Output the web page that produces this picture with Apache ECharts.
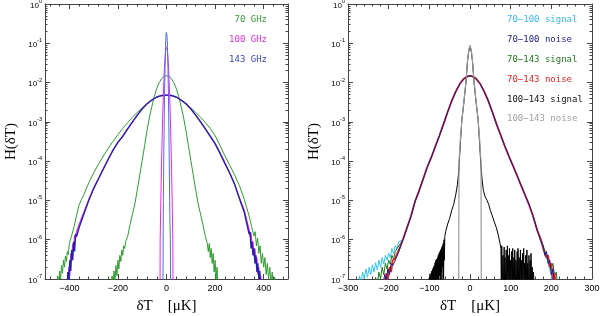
<!DOCTYPE html>
<html><head><meta charset="utf-8">
<script src="https://cdn.jsdelivr.net/npm/echarts@6/dist/echarts.min.js"></script>
<style>html,body{margin:0;padding:0;background:#fff}#c{width:600px;height:316px}</style>
</head><body><div id="c"></div>
<script>
// ---------- Tick labels / legend ----------
const leftXMajor = [-400, -200, 0, 200, 400];
const rightXMajor = [-300, -200, -100, 0, 100, 200, 300];
const yDecades = [1e-7, 1e-6, 1e-5, 1e-4, 1e-3, 1e-2, 1e-1, 1];
const leftNames = ['70 GHz', '100 GHz', '143 GHz'];
const rightNames = ['70\u2212100 signal', '70\u2212100 noise', '70\u2212143 signal', '70\u2212143 noise', '100\u2212143 signal', '100\u2212143 noise'];

// ---------- Left panel data: [deltaT, H] ----------
const green70Broad = [[-452,5e-8],[-448,1.2e-7],[-444,7e-8],[-440,1.6e-7],[-436,1e-7],[-432,2.2e-7],[-428,1.4e-7],[-424,3e-7],[-420,2e-7],[-416,3.8e-7],[-412,2.8e-7],[-408,5e-7],[-404,4.2e-7],[-400,8e-7],[-390,1.3e-6],[-380,2.2e-6],[-370,4.2e-6],[-360,7.6e-6],[-350,1.05e-5],[-340,1.41e-5],[-320,2.8e-5],[-300,5e-5],[-280,8.3e-5],[-260,1.35e-4],[-240,2.1e-4],[-220,3.2e-4],[-200,4.7e-4],[-180,6.8e-4],[-160,9.5e-4],[-140,1.32e-3],[-120,1.74e-3],[-100,2.3e-3],[-80,2.9e-3],[-60,3.55e-3],[-40,4.2e-3],[-20,4.6e-3],[0,4.7e-3],[20,4.6e-3],[40,4.2e-3],[60,3.55e-3],[80,2.9e-3],[100,2.3e-3],[120,1.74e-3],[140,1.32e-3],[160,9.5e-4],[180,6.8e-4],[200,4.5e-4],[220,2.5e-4],[240,1.38e-4],[260,7.9e-5],[280,4.5e-5],[300,2.4e-5],[320,1.07e-5],[340,4e-6],[350,2.2e-6],[360,1.26e-6],[365,1.6e-6],[370,7e-7],[375,1.1e-6],[380,4.5e-7],[385,7e-7],[390,2.5e-7],[395,4.5e-7],[400,2e-7],[405,3.5e-7],[410,1.3e-7],[415,2.5e-7],[420,1e-7],[425,2e-7],[430,7e-8],[435,1.5e-7],[440,6e-8],[445,1.1e-7],[450,5e-8]];
const green70Narrow = [[-228,5e-8],[-224,1.2e-7],[-220,7e-8],[-216,1.6e-7],[-212,9e-8],[-208,2.2e-7],[-204,1.2e-7],[-200,3e-7],[-196,1.8e-7],[-192,4e-7],[-188,2.8e-7],[-184,5.5e-7],[-180,4e-7],[-176,7e-7],[-172,6e-7],[-168,9e-7],[-160,1.2e-6],[-150,2.4e-6],[-140,4.5e-6],[-130,8.3e-6],[-120,1.9e-5],[-110,4.5e-5],[-100,1.05e-4],[-90,2.5e-4],[-80,6e-4],[-70,1.32e-3],[-60,2.5e-3],[-50,4.5e-3],[-40,7.1e-3],[-30,1.0e-2],[-20,1.26e-2],[-10,1.45e-2],[0,1.5e-2],[10,1.45e-2],[20,1.26e-2],[30,1.0e-2],[40,7.1e-3],[50,4.5e-3],[60,2.5e-3],[70,1.32e-3],[80,6e-4],[90,2.5e-4],[100,1.05e-4],[110,4.5e-5],[120,1.9e-5],[130,8.3e-6],[140,4.5e-6],[150,2.4e-6],[160,1.2e-6],[164,1.1e-6],[168,8e-7],[172,5e-7],[176,8e-7],[180,3.5e-7],[184,6e-7],[188,2.5e-7],[192,4.5e-7],[196,1.5e-7],[200,3e-7],[204,1e-7],[208,2e-7],[212,6e-8]];
const broadCore = [[-300,2e-5],[-280,3.55e-5],[-260,6.3e-5],[-240,1.12e-4],[-220,1.9e-4],[-200,3e-4],[-180,4.3e-4],[-160,6.6e-4],[-140,1e-3],[-120,1.48e-3],[-100,2.14e-3],[-80,2.9e-3],[-60,3.6e-3],[-40,4.3e-3],[-20,4.7e-3],[0,4.8e-3],[20,4.7e-3],[40,4.3e-3],[60,3.6e-3],[80,2.9e-3],[100,2.14e-3],[120,1.48e-3],[140,1e-3],[160,6.6e-4],[180,4.3e-4],[200,2.8e-4],[220,1.6e-4],[240,8.9e-5],[260,5e-5],[280,2.6e-5]];
const blue143BroadL = [[-410,5e-8],[-406,1.5e-7],[-402,8e-8],[-398,3e-7],[-394,1.6e-7],[-390,5.5e-7],[-386,3e-7],[-382,9e-7],[-378,5e-7],[-374,1.4e-6],[-370,1.2e-6],[-360,2e-6],[-340,4.5e-6],[-320,1e-5]];
const blue143BroadR = [[300,1.12e-5],[320,5e-6],[340,1.4e-6],[344,1.6e-6],[348,6e-7],[352,9e-7],[356,4e-7],[360,6e-7],[364,2.5e-7],[368,4e-7],[372,1.5e-7],[376,2.5e-7],[380,1e-7],[384,1.6e-7],[388,6e-8]];
const mag100BroadL = [[-406,6e-8],[-402,2e-7],[-398,1.2e-7],[-394,4.5e-7],[-390,3e-7],[-386,8e-7],[-382,6e-7],[-378,1.3e-6],[-374,1.1e-6],[-370,1.6e-6],[-360,2.4e-6],[-340,5e-6],[-320,1.05e-5]];
const mag100BroadR = [[300,1.15e-5],[320,5.6e-6],[340,1.8e-6],[344,1.2e-6],[348,1.5e-6],[352,7e-7],[356,9e-7],[360,4e-7],[364,6e-7],[368,2.5e-7],[372,3.5e-7],[376,1.3e-7],[380,2e-7],[384,8e-8],[388,1.2e-7],[392,5e-8]];
const blue143Spike = [[-15,1e-8],[-13,1e-5],[-12,4e-5],[-11,1.6e-4],[-10,5.4e-4],[-9,1.66e-3],[-8,4.6e-3],[-7,0.011],[-6,0.024],[-5,0.046],[-4,0.079],[-3,0.12],[-2,0.162],[-1,0.19],[0,0.204],[1,0.19],[2,0.162],[3,0.12],[4,0.079],[5,0.046],[6,0.024],[7,0.011],[8,4.6e-3],[9,1.66e-3],[10,5.4e-4],[11,1.6e-4],[12,4e-5],[13,1e-5],[14,3e-6],[16,1e-6],[17,1e-8]];
const mag100Spike = [[-27,1e-8],[-26,1e-6],[-24,5.8e-6],[-21,5.4e-5],[-18,3.7e-4],[-15,1.9e-3],[-12,7.2e-3],[-9,0.021],[-6,0.044],[-3,0.069],[0,0.079],[3,0.069],[6,0.044],[9,0.021],[12,7.2e-3],[15,1.9e-3],[18,3.7e-4],[21,5.4e-5],[24,5.8e-6],[26,1e-6],[27,1e-8]];

// ---------- Right panel data: [deltaT, H] ----------
const pairCore = [[-165,1e-6],[-155,2e-6],[-145,4e-6],[-135,9.5e-6],[-125,1.78e-5],[-115,3.55e-5],[-105,7.1e-5],[-95,1.26e-4],[-85,2.4e-4],[-75,4.5e-4],[-65,8.9e-4],[-55,1.78e-3],[-45,3.4e-3],[-35,5.9e-3],[-25,9.3e-3],[-15,1.26e-2],[-5,1.45e-2],[0,1.48e-2],[5,1.45e-2],[15,1.26e-2],[25,9.3e-3],[35,5.9e-3],[45,3.4e-3],[55,1.78e-3],[65,8.9e-4],[75,4.7e-4],[85,2.5e-4],[95,1.38e-4],[105,7.9e-5],[115,4.5e-5],[125,2.5e-5],[135,1.41e-5],[145,7.9e-6],[155,4e-6],[165,1.78e-6]];
const noise70_100L = [[-214,6e-8],[-210,1.3e-7],[-206,9e-8],[-202,1.8e-7],[-198,1.3e-7],[-194,2.5e-7],[-190,2.2e-7],[-185,2.8e-7],[-175,5e-7]];
const noise70_100R = [[175,8.9e-7],[180,7e-7],[184,4e-7],[188,5e-7],[192,2.5e-7],[196,3e-7],[200,1.3e-7],[204,1.8e-7],[208,7e-8]];
const noise70_143L = [[-210,5e-8],[-206,1.4e-7],[-202,1e-7],[-198,2e-7],[-194,1.5e-7],[-190,3e-7],[-185,3.2e-7],[-175,5.5e-7]];
const noise70_143R = [[175,9.5e-7],[180,6e-7],[184,6.5e-7],[188,3.5e-7],[192,4e-7],[196,2e-7],[200,2.5e-7],[204,1e-7],[208,1.4e-7],[212,5e-8]];
const signal70_100L = [[-276,5e-8],[-272,1.2e-7],[-268,8e-8],[-264,1.5e-7],[-260,1e-7],[-256,1.8e-7],[-252,1.1e-7],[-248,2e-7],[-244,1.3e-7],[-240,2.3e-7],[-236,1.5e-7],[-232,2.6e-7],[-228,1.7e-7],[-224,3e-7],[-220,2e-7],[-216,3.5e-7],[-212,2.4e-7],[-208,4e-7],[-204,3e-7],[-200,4.5e-7],[-196,3.5e-7],[-192,6e-7],[-188,4.5e-7],[-184,7e-7],[-180,6e-7],[-175,9e-7]];
const signal70_100R = [[175,8e-7],[180,6e-7],[185,4e-7],[190,3e-7],[195,2e-7],[200,1.2e-7],[204,6e-8]];
const signal70_143L = [[-236,5e-8],[-232,1.1e-7],[-228,7e-8],[-224,1.5e-7],[-220,1e-7],[-216,2e-7],[-212,1.3e-7],[-208,2.5e-7],[-204,1.8e-7],[-200,3e-7],[-196,2.4e-7],[-192,4e-7],[-188,3.2e-7],[-184,5e-7],[-180,5.5e-7],[-175,7e-7]];
const signal70_143R = [[175,1e-6],[180,7e-7],[185,5e-7],[190,4e-7],[195,3e-7],[200,2e-7],[204,2.5e-7],[208,1.2e-7],[212,1.5e-7],[216,6e-8]];
const signal100_143 = [[-102,5e-8],[-100,1.1e-7],[-99,5e-8],[-98,1.2e-7],[-97,5e-8],[-96,1.4e-7],[-95,5e-8],[-94,1.6e-7],[-93,5e-8],[-92,1.8e-7],[-91,5e-8],[-90,2e-7],[-89,5e-8],[-88,2.2e-7],[-87,6e-8],[-86,2.6e-7],[-85,5e-8],[-84,3e-7],[-83,8e-8],[-82,3.2e-7],[-81,5e-8],[-80,3.5e-7],[-79,1e-7],[-78,4e-7],[-77,5e-8],[-76,4.5e-7],[-75,1.2e-7],[-74,5e-7],[-73,6e-8],[-72,5.6e-7],[-71,1.5e-7],[-70,6.3e-7],[-69,8e-8],[-68,7e-7],[-67,2e-7],[-66,8e-7],[-65,1e-7],[-64,1e-6],[-63,3e-7],[-62,1.2e-6],[-60,1.6e-6],[-55,2.5e-6],[-50,3.5e-6],[-45,5.6e-6],[-40,8e-6],[-35,1.41e-5],[-31,2.5e-5],[-28,5e-5],[-24,2.5e-4],[-20,1.12e-3],[-15,3.16e-3],[-10,0.01],[-6,0.0355],[-3,0.063],[0,0.083],[3,0.063],[6,0.0355],[10,0.01],[15,3.16e-3],[20,1.12e-3],[24,2.5e-4],[27,7.1e-5],[30,3.16e-5],[33,1.78e-5],[37,1.26e-5],[42,1e-5],[46,7.9e-6],[50,5.6e-6],[55,4e-6],[60,2.8e-6],[65,2e-6],[70,1.26e-6],[74,7.9e-7],[76,6e-7],[77,5e-8],[78,7e-7],[80,5e-8],[81,4e-7],[82,5e-8],[84,6.5e-7],[85,5e-8],[86,3.5e-7],[88,5e-8],[89,5.5e-7],[90,5e-8],[92,7e-7],[93,5e-8],[94,4e-7],[96,5e-8],[97,6e-7],[98,5e-8],[100,3e-7],[101,5e-8],[102,5e-7],[104,5e-8],[105,6e-7],[106,5e-8],[108,3.5e-7],[109,5e-8],[110,5.5e-7],[112,5e-8],[113,3e-7],[114,5e-8],[116,5e-7],[117,5e-8],[118,6e-7],[120,5e-8],[121,3.5e-7],[122,5e-8],[124,5.5e-7],[125,5e-8],[126,3e-7],[128,5e-8],[129,4.5e-7],[130,5e-8],[132,6e-7],[133,5e-8],[134,2.5e-7],[136,5e-8],[137,4e-7],[138,5e-8],[140,5.5e-7],[141,5e-8],[142,2.5e-7],[144,5e-8],[145,4e-7],[146,5e-8],[148,3e-7],[149,5e-8],[150,4.5e-7],[152,5e-8],[153,2e-7],[154,5e-8],[156,1.5e-7],[158,5e-8]];
const noise100_143 = [[-28,1e-8],[-27,1.0e-4],[-24,3.2e-4],[-20,1.12e-3],[-15,3.3e-3],[-10,0.0105],[-6,0.038],[-3,0.068],[0,0.089],[3,0.068],[6,0.038],[10,0.0105],[15,3.3e-3],[20,1.12e-3],[24,3.2e-4],[27,1.0e-4],[28,1e-8]];

// ---------- Chart ----------
const AX = '#444';
const serif = '"Liberation Serif", "DejaVu Serif", serif';
function minorLin(min, max, step) { const a = []; for (let v = min; v <= max + 1e-9; v += step) a.push(v); return a; }
function minorLog() { const a = []; for (let e = -7; e < 0; e++) for (let m = 2; m <= 9; m++) a.push(m * Math.pow(10, e)); return a; }
const yMinor = minorLog();

function xAxesFor(grid, min, max, major, minor) {
  const base = { type: 'value', gridIndex: grid, min: min, max: max, splitLine: { show: false } };
  return [
    Object.assign({}, base, { position: 'bottom', axisLine: { show: true, onZero: false, lineStyle: { color: AX } },
      axisTick: { show: true, inside: true, length: 5, customValues: major, lineStyle: { color: AX } },
      axisLabel: { show: true, customValues: major, margin: 5, color: '#000', fontSize: 9, fontFamily: 'Liberation Sans',
        formatter: v => (v < 0 ? '\u2212' + (-v) : String(v)) },
      name: '\u03b4T    [\u03bcK]', nameLocation: 'middle', nameGap: 20,
      nameTextStyle: { fontFamily: serif, fontSize: 15, color: '#000' } }),
    Object.assign({}, base, { position: 'bottom', axisLine: { show: false, onZero: false },
      axisTick: { show: true, inside: true, length: 2.5, customValues: minor, lineStyle: { color: AX } }, axisLabel: { show: false } }),
    Object.assign({}, base, { position: 'top', axisLine: { show: true, onZero: false, lineStyle: { color: AX } },
      axisTick: { show: true, inside: true, length: 5, customValues: major, lineStyle: { color: AX } }, axisLabel: { show: false } }),
    Object.assign({}, base, { position: 'top', axisLine: { show: false, onZero: false },
      axisTick: { show: true, inside: true, length: 2.5, customValues: minor, lineStyle: { color: AX } }, axisLabel: { show: false } })
  ];
}
function yAxesFor(grid) {
  const base = { type: 'log', logBase: 10, gridIndex: grid, min: 1e-7, max: 1, splitLine: { show: false } };
  return [
    Object.assign({}, base, { position: 'left', axisLine: { show: true, onZero: false, lineStyle: { color: AX } },
      axisTick: { show: true, inside: true, length: 5, customValues: yDecades, lineStyle: { color: AX } },
      axisLabel: { show: true, customValues: yDecades, margin: 3,
        formatter: v => '{b|10}{s|' + Math.round(Math.log10(v)) + '}',
        rich: { b: { fontSize: 8, fontFamily: 'Liberation Sans', color: '#000', lineHeight: 11, verticalAlign: 'bottom' },
                s: { fontSize: 5.5, fontFamily: 'Liberation Sans', color: '#000', lineHeight: 11, verticalAlign: 'top' } } },
      name: 'H(\u03b4T)', nameLocation: 'middle', nameGap: 26,
      nameTextStyle: { fontFamily: serif, fontSize: 15, color: '#000' } }),
    Object.assign({}, base, { position: 'left', axisLine: { show: false, onZero: false },
      axisTick: { show: true, inside: true, length: 2.5, customValues: yMinor, lineStyle: { color: AX } }, axisLabel: { show: false } }),
    Object.assign({}, base, { position: 'right', axisLine: { show: true, onZero: false, lineStyle: { color: AX } },
      axisTick: { show: true, inside: true, length: 5, customValues: yDecades, lineStyle: { color: AX } }, axisLabel: { show: false } }),
    Object.assign({}, base, { position: 'right', axisLine: { show: false, onZero: false },
      axisTick: { show: true, inside: true, length: 2.5, customValues: yMinor, lineStyle: { color: AX } }, axisLabel: { show: false } })
  ];
}

function line(data, color, width, panel) {
  return { type: 'line', data: data, xAxisIndex: panel * 4, yAxisIndex: panel * 4, showSymbol: false, symbol: 'none',
    clip: true, silent: true, animation: false, lineStyle: { color: color, width: width } };
}

const leftColors = ['#2e9e2e', '#ee22ee', '#2424aa', '#4d6fe0'];
const rightColors = ['#33c4f2', '#1c1c8c', '#1e7a1e', '#e82424', '#000000', '#9a9a9a'];
const leftText = ['#3a9a3a', '#e030e0', '#3848b0'];
const rightText = ['#33bbee', '#23238a', '#1f7a1f', '#e82020', '#111111', '#a0a0a0'];

const series = [
  line(green70Broad, leftColors[0], 1, 0),
  line(green70Narrow, leftColors[0], 1, 0),
  line(mag100BroadL.concat(broadCore, mag100BroadR), leftColors[1], 1.2, 0),
  line(blue143BroadL.concat(broadCore, blue143BroadR), leftColors[2], 1.4, 0),
  line(mag100Spike, leftColors[1], 1, 0),
  line(blue143Spike, leftColors[3], 1, 0),
  line(signal70_100L.concat(pairCore, signal70_100R), rightColors[0], 1, 1),
  line(signal70_143L.concat(pairCore, signal70_143R), rightColors[2], 1, 1),
  line(noise70_143L.concat(pairCore, noise70_143R), rightColors[3], 1.8, 1),
  line(noise70_100L.concat(pairCore, noise70_100R), rightColors[1], 1, 1),
  line(signal100_143, rightColors[4], 1, 1),
  line(noise100_143, rightColors[5], 1.2, 1)
];

const graphic = [];
leftNames.forEach((t, i) => graphic.push({ type: 'text', x: 267, y: 20 + 20 * i, silent: true,
  style: { text: t, fill: leftText[i], font: '9px "DejaVu Sans Mono"', textAlign: 'right', textVerticalAlign: 'middle' } }));
rightNames.forEach((t, i) => graphic.push({ type: 'text', x: 507, y: 20 + 19.8 * i, silent: true,
  style: { text: t, fill: rightText[i], font: '9px "DejaVu Sans Mono"', textAlign: 'left', textVerticalAlign: 'middle' } }));

const chart = echarts.init(document.getElementById('c'), null, { renderer: 'canvas' });
chart.setOption({
  animation: false,
  backgroundColor: '#fff',
  grid: [
    { left: 45, top: 4, width: 243, height: 275, containLabel: false, outerBoundsMode: 'none' },
    { left: 348, top: 4, width: 244, height: 275, containLabel: false, outerBoundsMode: 'none' }
  ],
  xAxis: xAxesFor(0, -500, 500, leftXMajor, minorLin(-480, 480, 40)).concat(xAxesFor(1, -300, 300, rightXMajor, minorLin(-300, 300, 20))),
  yAxis: yAxesFor(0).concat(yAxesFor(1)),
  series: series,
  graphic: graphic
});
</script></body></html>
